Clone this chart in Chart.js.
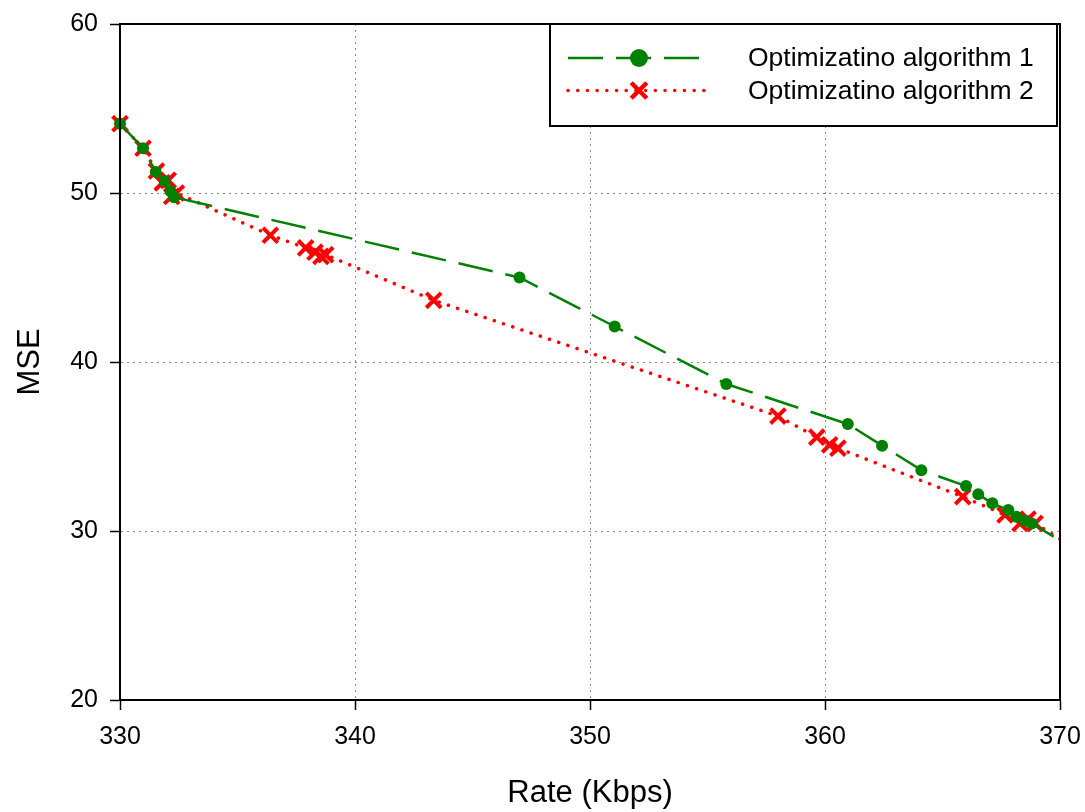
<!DOCTYPE html>
<html>
<head>
<meta charset="utf-8">
<script src="https://cdn.jsdelivr.net/npm/chart.js@4.4.1/dist/chart.umd.min.js"></script>
<style>
  html, body { margin: 0; padding: 0; background: #fff; }
  #wrap { width: 1085px; height: 812px; }
</style>
</head>
<body>
<div id="wrap"><canvas id="rdChart" width="1085" height="812"></canvas></div>
<script>
// Rate (Kbps) / MSE pairs
const rate1 = [330.0, 330.98, 331.52, 331.9, 332.15, 332.3, 347.0, 351.05, 355.8, 360.97, 362.43, 364.1, 366.0, 366.52, 367.12, 367.8, 368.15, 368.5, 368.79, 370.6];
const mse1  = [54.1, 52.65, 51.25, 50.7, 50.1, 49.75, 45.0, 42.1, 38.7, 36.33, 35.05, 33.6, 32.66, 32.17, 31.64, 31.24, 30.85, 30.6, 30.45, 28.95];

const rate2 = [330.0, 330.98, 331.55, 331.8, 332.05, 332.2, 332.4, 336.4, 337.9, 338.3, 338.55, 338.75, 343.35, 358.0, 359.65, 360.2, 360.55, 365.86, 367.66, 368.3, 368.64, 368.94, 370.6];
const mse2  = [54.1, 52.65, 51.3, 50.6, 50.75, 49.8, 50.0, 47.5, 46.75, 46.5, 46.25, 46.35, 43.65, 36.8, 35.55, 35.1, 34.9, 32.03, 30.95, 30.45, 30.7, 30.45, 29.0];

const seriesNames = ['Optimizatino algorithm 1', 'Optimizatino algorithm 2'];
const xTicks = [330, 340, 350, 360, 370];
const yTicks = [20, 30, 40, 50, 60];

const FONT = '"Liberation Sans", Arial, Helvetica, sans-serif';

const toPoints = (xs, ys) => xs.map((x, i) => ({ x: x, y: ys[i] }));

// draw a marker by hand (used for the legend samples)
function marker(ctx, style, x, y, r, color) {
    ctx.save();
    ctx.setLineDash([]);
    if (style === 'circle') {
        ctx.fillStyle = color;
        ctx.beginPath();
        ctx.arc(x, y, r, 0, Math.PI * 2);
        ctx.fill();
    } else {
        const d = r * Math.SQRT1_2;
        ctx.strokeStyle = color;
        ctx.lineWidth = 4.5;
        ctx.lineCap = 'butt';
        ctx.beginPath();
        ctx.moveTo(x - d, y - d); ctx.lineTo(x + d, y + d);
        ctx.moveTo(x - d, y + d); ctx.lineTo(x + d, y - d);
        ctx.stroke();
    }
    ctx.restore();
}

// full black frame round the plot area
const frame = {
    id: 'frame',
    afterDatasetsDraw(chart) {
        const { ctx, chartArea: a } = chart;
        ctx.save();
        ctx.strokeStyle = '#000';
        ctx.lineWidth = 2;
        ctx.strokeRect(a.left, a.top, a.right - a.left, a.bottom - a.top);
        ctx.restore();
    }
};

// boxed legend in the top right corner
const legendBox = {
    id: 'legendBox',
    afterDraw(chart) {
        const { ctx, chartArea: a } = chart;
        const x0 = a.right - 510, y0 = a.top, w = 507, h = 102;
        ctx.save();
        ctx.fillStyle = '#fff';
        ctx.fillRect(x0, y0, w, h);
        ctx.strokeStyle = '#000';
        ctx.lineWidth = 2;
        ctx.strokeRect(x0, y0, w, h);

        chart.data.datasets.forEach((ds, i) => {
            const y = y0 + 34 + i * 32.5;
            ctx.save();
            ctx.strokeStyle = ds.borderColor;
            ctx.lineWidth = ds.borderWidth;
            ctx.lineCap = ds.borderCapStyle;
            ctx.setLineDash(ds.borderDash);
            ctx.beginPath();
            ctx.moveTo(x0 + 18, y);
            ctx.lineTo(x0 + (i === 0 ? 150 : 158), y);
            ctx.stroke();
            ctx.restore();
            marker(ctx, ds.pointStyle, x0 + 89, y, i === 0 ? 9 : 11, ds.borderColor);

            ctx.fillStyle = '#000';
            ctx.font = '26.5px ' + FONT;
            ctx.textAlign = 'left';
            ctx.textBaseline = 'middle';
            ctx.fillText(ds.label, x0 + 198, y + 1);
        });
        ctx.restore();
    }
};

const ctx = document.getElementById('rdChart').getContext('2d');
new Chart(ctx, {
    type: 'scatter',
    data: {
        datasets: [{
            label: seriesNames[0],
            data: toPoints(rate1, mse1),
            showLine: true,
            borderColor: '#008000',
            backgroundColor: '#008000',
            borderWidth: 2.5,
            borderDash: [35, 13],
            borderCapStyle: 'butt',
            pointStyle: 'circle',
            pointRadius: 6,
            pointBorderWidth: 0,
            pointHoverRadius: 6,
            clip: { left: 14, top: 14, right: 0, bottom: 0 }
        }, {
            label: seriesNames[1],
            data: toPoints(rate2, mse2),
            showLine: true,
            borderColor: '#ff0000',
            backgroundColor: '#ff0000',
            borderWidth: 3.5,
            borderDash: [0.1, 9.6],
            borderCapStyle: 'round',
            pointStyle: 'crossRot',
            pointRadius: 10.5,
            pointBorderWidth: 4,
            pointHoverRadius: 10.5,
            clip: { left: 14, top: 14, right: 0, bottom: 0 }
        }]
    },
    options: {
        responsive: false,
        animation: false,
        events: [],
        layout: { padding: { top: 24, right: 25, left: 0, bottom: 0 } },
        plugins: {
            legend: { display: false },
            title: { display: false },
            tooltip: { enabled: false }
        },
        scales: {
            x: {
                type: 'linear',
                min: 330,
                max: 370,
                afterBuildTicks: s => { s.ticks = xTicks.map(v => ({ value: v })); },
                afterFit: s => { s.height = 112; s.paddingLeft = 0; s.paddingRight = 0; },
                ticks: { color: '#000', padding: 12, font: { size: 25, family: FONT } },
                grid: { color: '#8a8a8a', lineWidth: 1, tickLength: 10, tickColor: '#000', tickWidth: 1.5 },
                border: { display: true, color: '#000', width: 2, dash: [2, 4] },
                title: {
                    display: true,
                    text: 'Rate (Kbps)',
                    color: '#000',
                    font: { size: 31, family: FONT },
                    padding: { top: 0, bottom: 0 }
                }
            },
            y: {
                type: 'linear',
                min: 20,
                max: 60,
                afterBuildTicks: s => { s.ticks = yTicks.map(v => ({ value: v })); },
                afterFit: s => { s.width = 120; s.paddingTop = 0; s.paddingBottom = 0; },
                ticks: { color: '#000', padding: 12, font: { size: 25, family: FONT } },
                grid: { color: '#8a8a8a', lineWidth: 1, tickLength: 10, tickColor: '#000', tickWidth: 1.5 },
                border: { display: true, color: '#000', width: 2, dash: [2, 4] },
                title: {
                    display: true,
                    text: 'MSE',
                    color: '#000',
                    font: { size: 31, family: FONT },
                    padding: { top: 12, bottom: 0 }
                }
            }
        }
    },
    plugins: [frame, legendBox]
});
</script>
</body>
</html>
